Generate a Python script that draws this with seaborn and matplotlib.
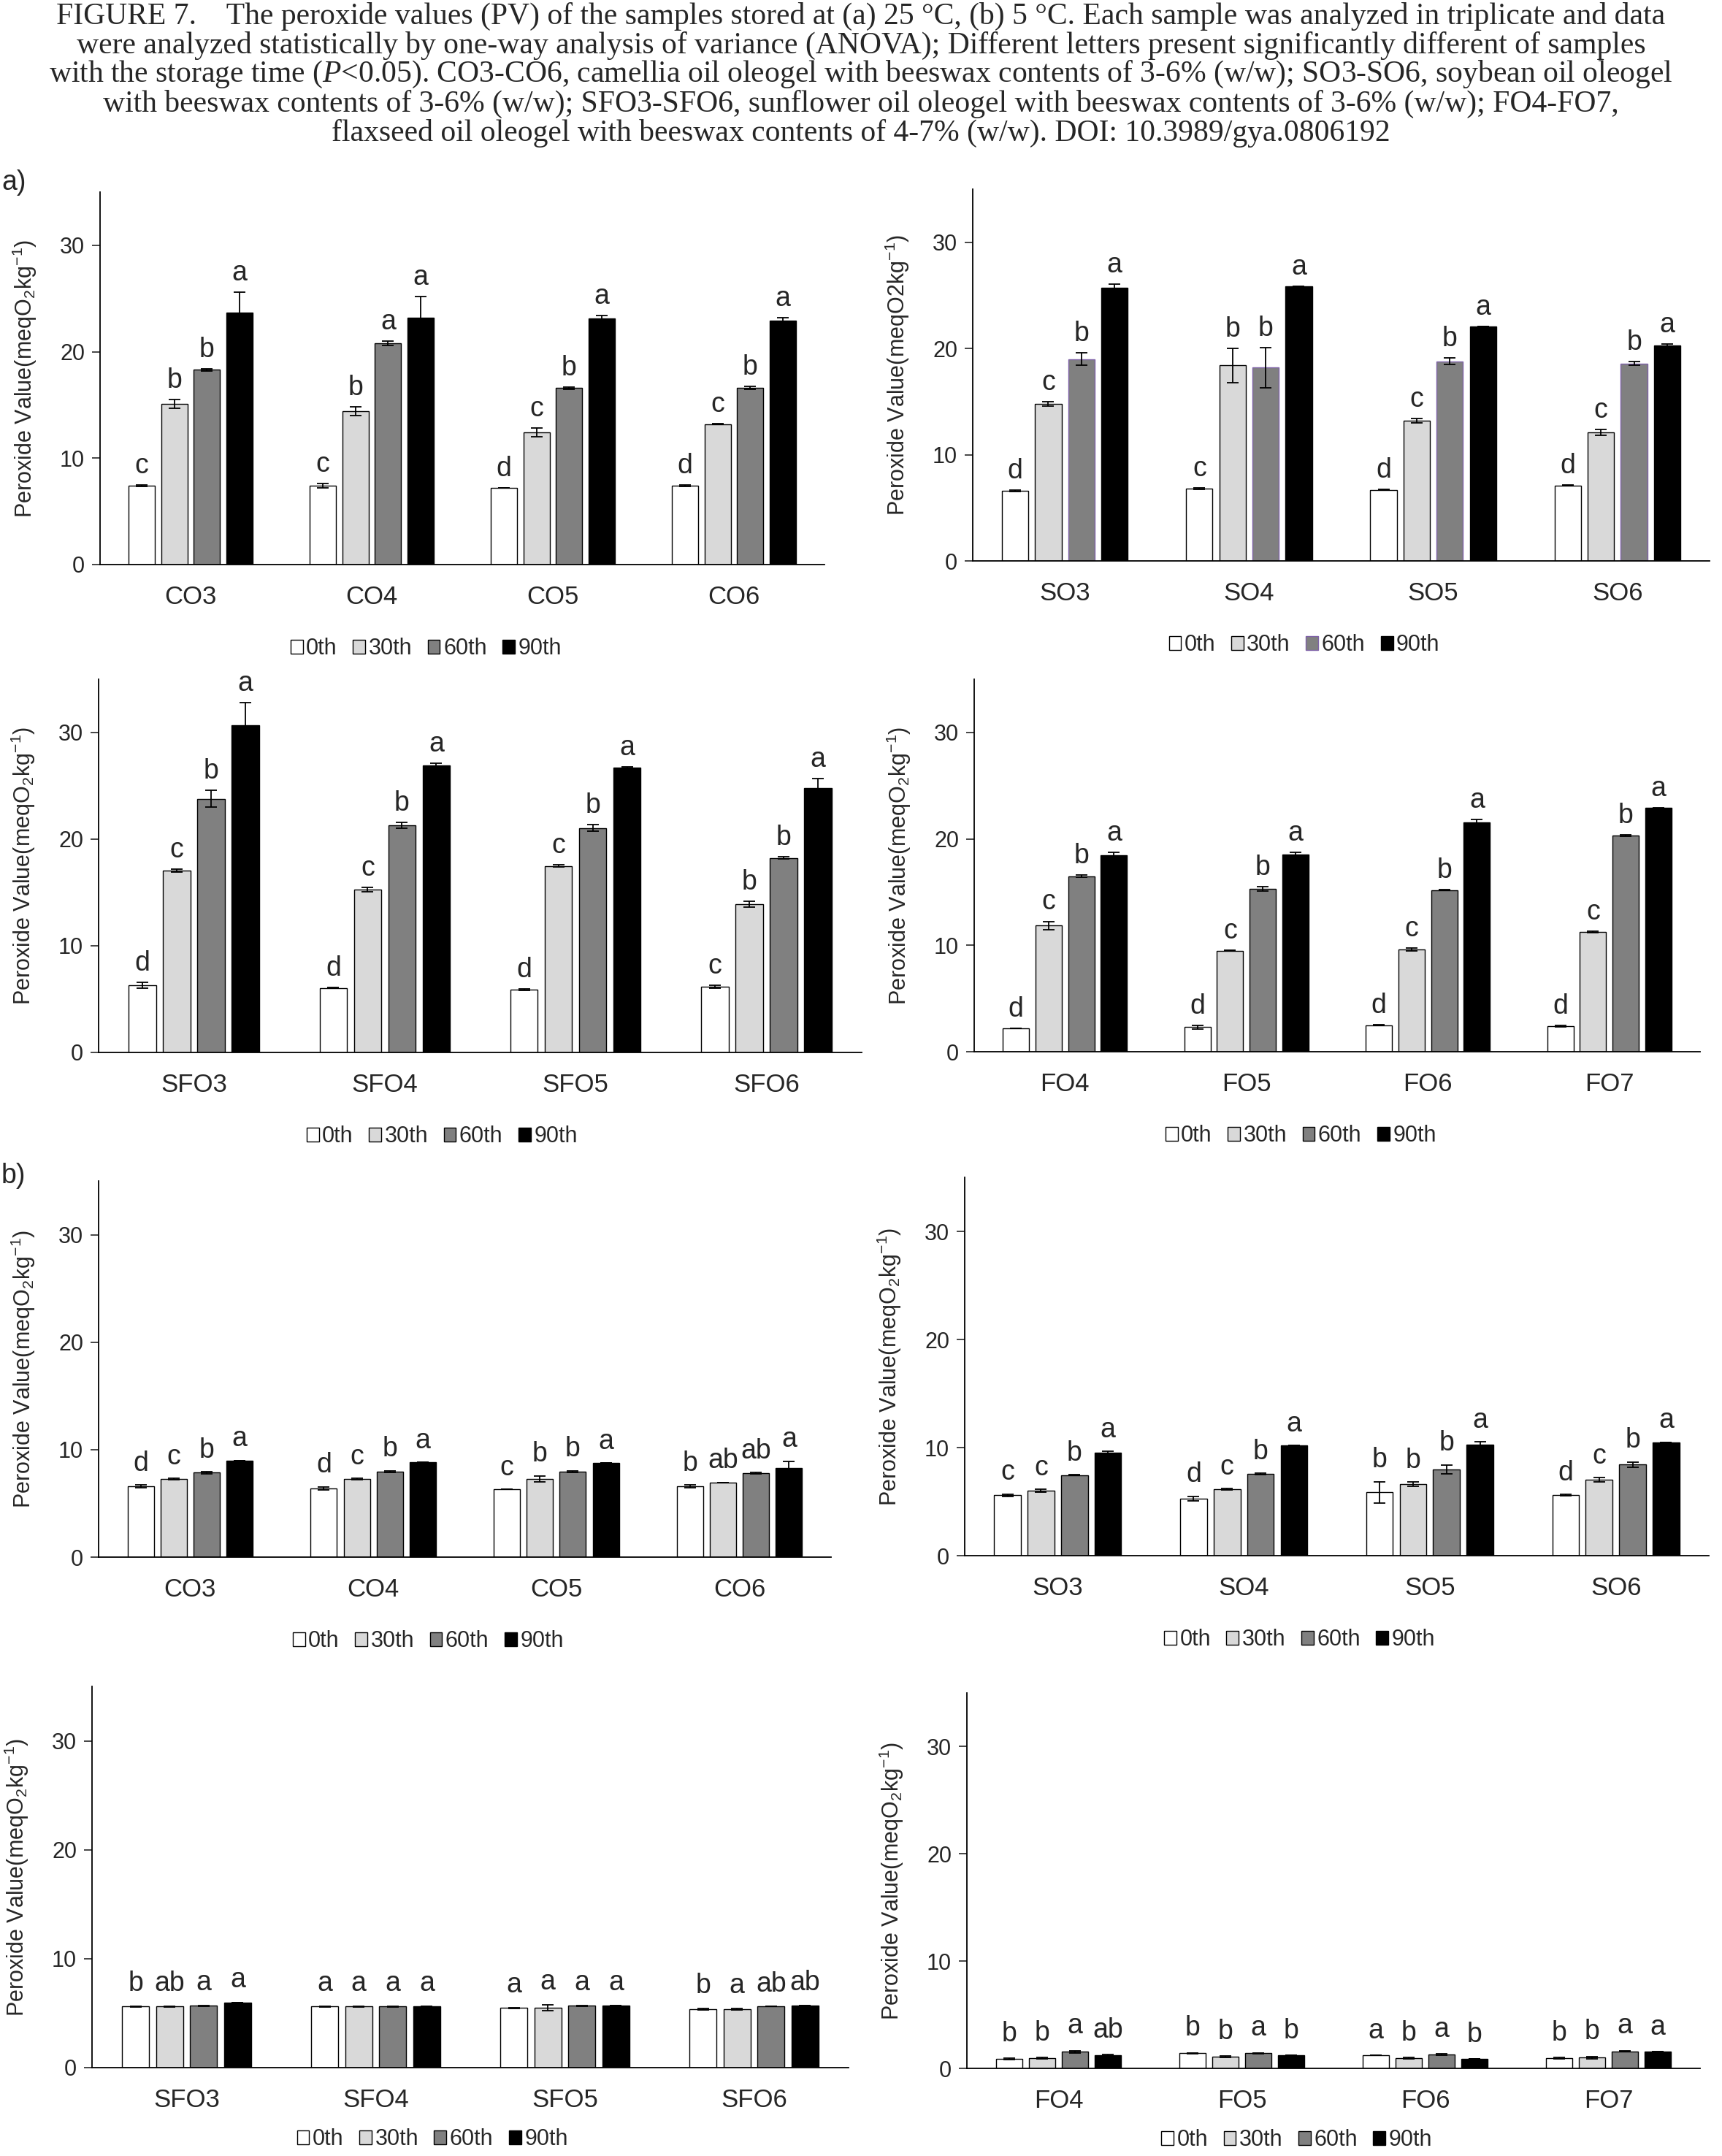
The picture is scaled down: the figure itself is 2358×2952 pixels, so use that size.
import matplotlib
matplotlib.use('Agg')
import matplotlib.pyplot as plt
from matplotlib import font_manager
import pandas as pd
import seaborn as sns

# storage days (legend) and bar colours
days = ['0th', '30th', '60th', '90th']
day_colors = ['white', '#d9d9d9', '#808080', 'black']

# ---- (a) 25 C ----
co_samples = ['CO3', 'CO4', 'CO5', 'CO6']
co25_pv = [[7.4, 7.4, 7.2, 7.4], [15.1, 14.4, 12.4, 13.2], [18.3, 20.8, 16.6, 16.6], [23.7, 23.2, 23.1, 22.9]]
co25_sd = [[0.05, 0.2, 0.0, 0.05], [0.4, 0.4, 0.4, 0.05], [0.1, 0.2, 0.1, 0.15], [1.9, 2.0, 0.3, 0.3]]
co25_let = [['c', 'c', 'd', 'd'], ['b', 'b', 'c', 'c'], ['b', 'a', 'b', 'b'], ['a', 'a', 'a', 'a']]

so_samples = ['SO3', 'SO4', 'SO5', 'SO6']
so25_pv = [[6.6, 6.8, 6.7, 7.1], [14.8, 18.4, 13.2, 12.1], [19.0, 18.2, 18.8, 18.6], [25.75, 25.85, 22.1, 20.3]]
so25_sd = [[0.1, 0.05, 0.05, 0.05], [0.2, 1.6, 0.2, 0.3], [0.6, 1.9, 0.3, 0.15], [0.3, 0.0, 0.0, 0.1]]
so25_let = [['d', 'c', 'd', 'd'], ['c', 'b', 'c', 'c'], ['b', 'b', 'b', 'b'], ['a', 'a', 'a', 'a']]

sfo_samples = ['SFO3', 'SFO4', 'SFO5', 'SFO6']
sfo25_pv = [[6.3, 6.05, 5.9, 6.15], [17.05, 15.3, 17.5, 13.9], [23.8, 21.3, 21.05, 18.25], [30.7, 26.9, 26.7, 24.8]]
sfo25_sd = [[0.3, 0.05, 0.05, 0.15], [0.15, 0.2, 0.1, 0.3], [0.8, 0.3, 0.3, 0.1], [2.1, 0.2, 0.1, 0.9]]
sfo25_let = [['d', 'd', 'd', 'c'], ['c', 'c', 'c', 'b'], ['b', 'b', 'b', 'b'], ['a', 'a', 'a', 'a']]

fo_samples = ['FO4', 'FO5', 'FO6', 'FO7']
fo25_pv = [[2.2, 2.3, 2.5, 2.4], [11.85, 9.5, 9.6, 11.25], [16.5, 15.3, 15.2, 20.3], [18.45, 18.55, 21.55, 22.9]]
fo25_sd = [[0.0, 0.2, 0.05, 0.05], [0.4, 0.05, 0.15, 0.05], [0.1, 0.2, 0.05, 0.05], [0.3, 0.2, 0.25, 0.05]]
fo25_let = [['d', 'd', 'd', 'd'], ['c', 'c', 'c', 'c'], ['b', 'b', 'b', 'b'], ['a', 'a', 'a', 'a']]

# ---- (b) 5 C ----
co5_pv = [[6.6, 6.4, 6.3, 6.6], [7.27, 7.27, 7.27, 6.96], [7.85, 7.95, 7.95, 7.82], [9.0, 8.83, 8.74, 8.28]]
co5_sd = [[0.15, 0.15, 0.0, 0.15], [0.05, 0.05, 0.3, 0.0], [0.1, 0.1, 0.1, 0.05], [0.0, 0.0, 0.0, 0.65]]
co5_let = [['d', 'd', 'c', 'b'], ['c', 'c', 'b', 'ab'], ['b', 'b', 'b', 'ab'], ['a', 'a', 'a', 'a']]

so5_pv = [[5.6, 5.3, 5.85, 5.6], [6.0, 6.15, 6.6, 7.0], [7.45, 7.57, 8.0, 8.43], [9.5, 10.2, 10.3, 10.5]]
so5_sd = [[0.1, 0.2, 1.0, 0.05], [0.15, 0.05, 0.2, 0.2], [0.05, 0.05, 0.4, 0.25], [0.15, 0.0, 0.25, 0.0]]
so5_let = [['c', 'd', 'b', 'd'], ['c', 'c', 'b', 'c'], ['b', 'b', 'b', 'b'], ['a', 'a', 'a', 'a']]

sfo5_pv = [[5.6, 5.6, 5.47, 5.36], [5.6, 5.6, 5.5, 5.36], [5.67, 5.6, 5.67, 5.6], [5.96, 5.62, 5.7, 5.7]]
sfo5_sd = [[0.05, 0.05, 0.05, 0.05], [0.05, 0.05, 0.25, 0.05], [0.05, 0.05, 0.05, 0.0], [0.0, 0.0, 0.0, 0.0]]
sfo5_let = [['b', 'a', 'a', 'b'], ['ab', 'a', 'a', 'a'], ['a', 'a', 'a', 'ab'], ['a', 'a', 'a', 'ab']]

fo5_pv = [[0.87, 1.4, 1.2, 0.96], [0.96, 1.1, 0.96, 0.99], [1.54, 1.4, 1.3, 1.6], [1.22, 1.2, 0.87, 1.54]]
fo5_sd = [[0.05, 0.05, 0.0, 0.05], [0.05, 0.05, 0.05, 0.1], [0.1, 0.05, 0.05, 0.05], [0.05, 0.0, 0.0, 0.0]]
fo5_let = [['b', 'b', 'a', 'b'], ['b', 'b', 'b', 'b'], ['a', 'a', 'a', 'a'], ['ab', 'b', 'b', 'a']]

caption = [
    'FIGURE 7.    The peroxide values (PV) of the samples stored at (a) 25 \u00b0C, (b) 5 \u00b0C. Each sample was analyzed in triplicate and data',
    'were analyzed statistically by one-way analysis of variance (ANOVA); Different letters present significantly different of samples',
    r'with the storage time ($\mathit{P}$<0.05). CO3-CO6, camellia oil oleogel with beeswax contents of 3-6% (w/w); SO3-SO6, soybean oil oleogel',
    'with beeswax contents of 3-6% (w/w); SFO3-SFO6, sunflower oil oleogel with beeswax contents of 3-6% (w/w); FO4-FO7,',
    'flaxseed oil oleogel with beeswax contents of 4-7% (w/w). DOI: 10.3989/gya.0806192',
]

ylab_sub = r'Peroxide Value(meqO$_2$kg$^{-1}$)'
ylab_flat = r'Peroxide Value(meqO2kg$^{-1}$)'

sns.set_style('white')
names = {f.name for f in font_manager.fontManager.ttflist}
cond = 'Liberation Sans Narrow' if 'Liberation Sans Narrow' in names else 'Liberation Sans'
plt.rcParams['font.family'] = [cond, 'DejaVu Sans']
plt.rcParams['mathtext.fontset'] = 'custom'
plt.rcParams['mathtext.default'] = 'regular'
plt.rcParams['mathtext.it'] = 'Liberation Serif:italic'
plt.rcParams['mathtext.rm'] = 'Liberation Sans'

W, H = 2358, 2952
fig = plt.figure(figsize=(W / 100, H / 100), dpi=100)


def draw_panel(rect_px, samples, pv, sd, letters, ylabel, gap_y, edge60=None, leg_off=115):
    l, t, r, b = rect_px
    ax = fig.add_axes([l / W, 1 - b / H, (r - l) / W, (b - t) / H])
    rows = []
    for d, day in enumerate(days):
        for s, name in enumerate(samples):
            rows.append({'sample': name, 'day': day, 'pv': pv[d][s]})
    df = pd.DataFrame(rows)
    sns.barplot(data=df, x='sample', y='pv', hue='day', order=samples, hue_order=days,
                palette=day_colors, edgecolor='black', linewidth=1.0, width=0.72, gap=0.2,
                errorbar=None, ax=ax)
    bar_sets = list(ax.containers)
    for d, bars in enumerate(bar_sets):
        xs = [p.get_x() + p.get_width() / 2 for p in bars]
        hs = [p.get_height() for p in bars]
        if edge60 and d == 2:
            for p in bars:
                p.set_edgecolor(edge60)
        ax.errorbar(xs, hs, yerr=sd[d], fmt='none', ecolor='black', elinewidth=1.3,
                    capsize=6, capthick=1.3, zorder=4)
        for x, h, e, txt in zip(xs, hs, sd[d], letters[d]):
            ax.text(x, h + e + gap_y, txt, ha='center', va='baseline', fontsize=27)
    ax.set_ylim(0, 35)
    ax.set_yticks([0, 10, 20, 30])
    ax.set_xlim(-0.5, 3.5)
    ax.set_xlabel('')
    ax.set_ylabel(ylabel, fontsize=22, family='Liberation Sans')
    ax.yaxis.set_label_coords(-84 / (r - l), 0.5)
    sns.despine(ax=ax)
    for sp in ('left', 'bottom'):
        ax.spines[sp].set_color('black')
        ax.spines[sp].set_linewidth(1.3)
    ax.tick_params(axis='x', length=0, pad=20, labelsize=25)
    ax.tick_params(axis='y', length=8, width=1.2, direction='out', pad=7, labelsize=22, left=True)
    leg = ax.get_legend()
    handles = leg.legend_handles
    labels = [tx.get_text() for tx in leg.get_texts()]
    leg.remove()
    if edge60:
        handles[2].set_edgecolor(edge60)
    for hd in handles:
        hd.set_linewidth(1.0)
    ax.legend(handles, labels, loc='center', bbox_to_anchor=(0.45, -leg_off / (b - t)),
              ncol=4, frameon=False, fontsize=22, handlelength=0.55, handleheight=0.6,
              handletextpad=0.15, columnspacing=0.7)
    return ax


draw_panel((137, 263, 1129, 773), co_samples, co25_pv, co25_sd, co25_let, ylab_sub, 1.1)
draw_panel((1332, 259, 2341, 768), so_samples, so25_pv, so25_sd, so25_let, ylab_flat, 1.1, edge60='#7f62a8')
draw_panel((135, 930, 1180, 1441), sfo_samples, sfo25_pv, sfo25_sd, sfo25_let, ylab_sub, 1.1)
draw_panel((1334, 930, 2328, 1440), fo_samples, fo25_pv, fo25_sd, fo25_let, ylab_sub, 1.1)
draw_panel((135, 1617, 1138, 2132), co_samples, co5_pv, co5_sd, co5_let, ylab_sub, 1.3)
draw_panel((1321, 1612, 2340, 2130), so_samples, so5_pv, so5_sd, so5_let, ylab_sub, 1.3)
draw_panel((126, 2309, 1162, 2831), sfo_samples, sfo5_pv, sfo5_sd, sfo5_let, ylab_sub, 1.4, leg_off=98)
draw_panel((1324, 2318, 2328, 2832), fo_samples, fo5_pv, fo5_sd, fo5_let, ylab_sub, 1.6, leg_off=98)

# caption lines
for i, line in enumerate(caption):
    fig.text(0.5, 1 - (22 + 40 * i) / H, line, ha='center', va='center',
             fontsize=30, family='Liberation Serif')

fig.text(2 / W, 1 - 250 / H, 'a)', ha='left', va='center', fontsize=27, family='Liberation Sans')
fig.text(2 / W, 1 - 1610 / H, 'b)', ha='left', va='center', fontsize=27, family='Liberation Sans')

fig.savefig('out.png', dpi=100, facecolor='white')
